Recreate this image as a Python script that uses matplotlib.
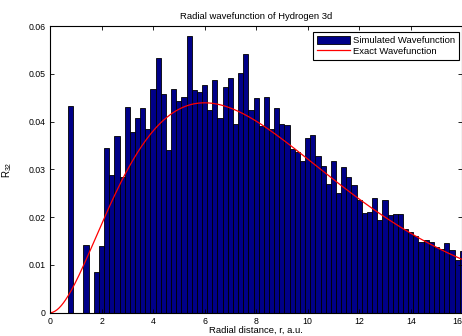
import numpy as np
import matplotlib
matplotlib.use('Agg')
import matplotlib.pyplot as plt

plt.rcParams['font.family'] = ['Liberation Sans', 'DejaVu Sans']
plt.rcParams['mathtext.default'] = 'regular'

# histogram of the sampled radial distances (bin width 0.2, first bin at 0.8)
bin_start = 0.8
bin_width = 0.2
counts = [
    0.0432, 0.0, 0.0, 0.0141, 0.0, 0.0085, 0.0140, 0.0344, 0.0288, 0.0370,
    0.0283, 0.0431, 0.0378, 0.0407, 0.0428, 0.0384, 0.0468, 0.0533, 0.0457, 0.0340,
    0.0468, 0.0443, 0.0451, 0.0579, 0.0467, 0.0462, 0.0476, 0.0425, 0.0487, 0.0407,
    0.0473, 0.0492, 0.0395, 0.0502, 0.0542, 0.0424, 0.0450, 0.0391, 0.0451, 0.0384,
    0.0429, 0.0394, 0.0392, 0.0342, 0.0336, 0.0317, 0.0366, 0.0372, 0.0327, 0.0307,
    0.0269, 0.0317, 0.0250, 0.0305, 0.0285, 0.0267, 0.0235, 0.0209, 0.0211, 0.0239,
    0.0195, 0.0236, 0.0205, 0.0207, 0.0206, 0.0175, 0.0168, 0.0160, 0.0149, 0.0152,
    0.0148, 0.0138, 0.0134, 0.0145, 0.0131, 0.0110, 0.0130,
]
centers = bin_start + bin_width * np.arange(len(counts))

xticks = [0, 2, 4, 6, 8, 10, 12, 14, 16]
yticks = [0, 0.01, 0.02, 0.03, 0.04, 0.05, 0.06]
ytick_labels = ['0', '0.01', '0.02', '0.03', '0.04', '0.05', '0.06']


def r32(r):
    # hydrogen 3d radial function, r in Bohr radii
    return 4.0 / (81.0 * np.sqrt(30.0)) * r ** 2 * np.exp(-r / 3.0)


fig = plt.figure(figsize=(4.62, 3.36), dpi=100)
W, H = 462.0, 336.0
x0, x1, y0, y1 = 50.0, 462.3, 312.7, 26.0
ax = fig.add_axes([x0 / W, (H - y0) / H, (x1 - x0) / W, (y0 - y1) / H])

bars = ax.bar(centers, counts, width=bin_width, color='#000088', edgecolor='black',
              linewidth=0.6)
r = np.linspace(0, 16, 400)
line, = ax.plot(r, r32(r), color='red', linewidth=0.9)

ax.set_xlim(0, 16)
ax.set_ylim(0, 0.06)
ax.set_xticks(xticks)
ax.set_xticklabels([str(t) for t in xticks])
ax.set_yticks(yticks)
ax.set_yticklabels(ytick_labels)
ax.tick_params(direction='in', length=3, width=0.6, labelsize=6.3, pad=3,
               top=True, right=True)
# keep the last x label inside the canvas
ax.get_xticklabels()[-1].set_horizontalalignment('right')
for s in ax.spines.values():
    s.set_linewidth(0.8)

ax.set_title('Radial wavefunction of Hydrogen 3d', fontsize=6.8, pad=5)
ax.set_xlabel('Radial distance, r, a.u.', fontsize=6.8)
ax.xaxis.set_label_coords(0.5, -0.045)
ax.set_ylabel('R$_{32}$', fontsize=7)
ax.yaxis.set_label_coords(-0.087, 0.5)

leg = ax.legend([bars, line], ['Simulated Wavefunction', 'Exact Wavefunction'],
                loc='upper right', bbox_to_anchor=(0.992, 0.979),
                borderaxespad=0, fontsize=6.8, fancybox=False, framealpha=1,
                edgecolor='black', handlelength=3.5, handleheight=1.0,
                handletextpad=0.35, labelspacing=0.15, borderpad=0.4)
leg.get_frame().set_linewidth(0.8)

fig.savefig('out.png', dpi=100)
